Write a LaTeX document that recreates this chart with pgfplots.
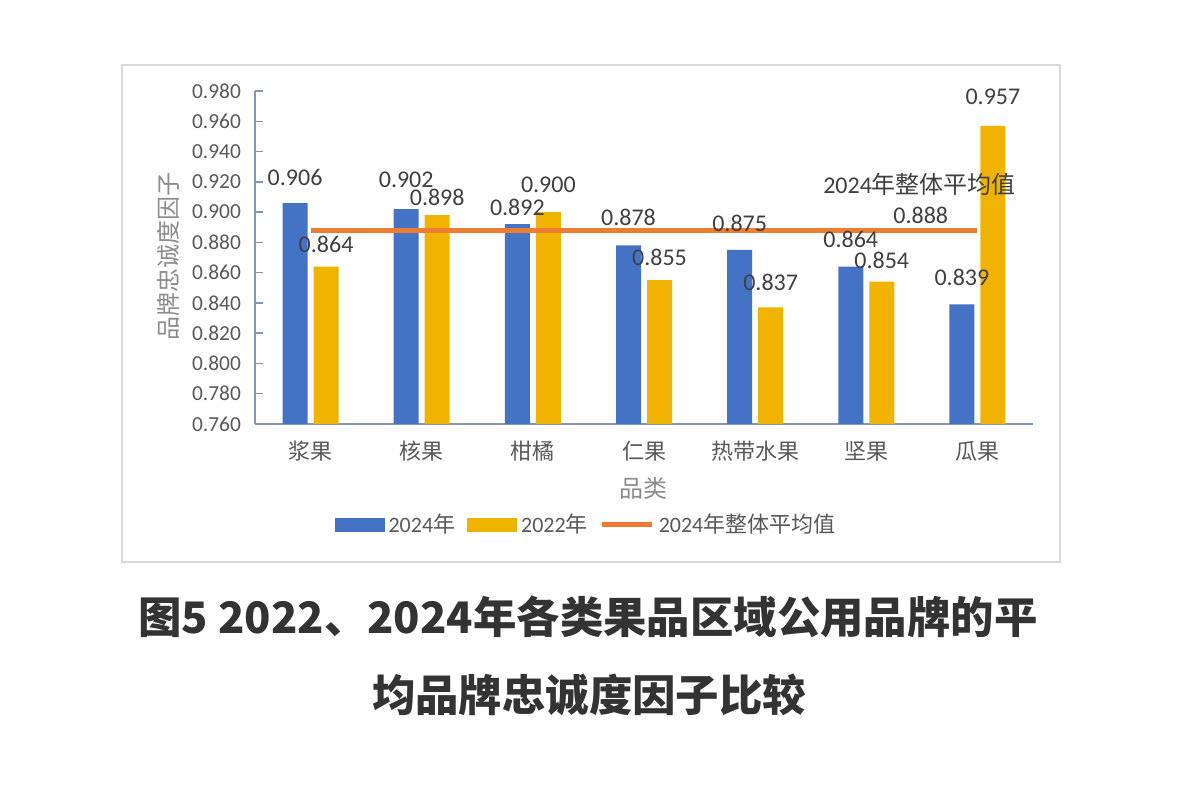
\documentclass[border=0pt]{standalone}
\usepackage{pgfplots}
\pgfplotsset{compat=1.18}
\usepackage{pgfplotstable}
\usepackage{fontspec}
\setmainfont{Carlito}
\newfontfamily\cjk{Noto Sans CJK SC}

\definecolor{bar24}{HTML}{4472C4}
\definecolor{bar22}{HTML}{F0B400}
\definecolor{avgline}{HTML}{ED7D31}
\definecolor{txt}{HTML}{595959}
\definecolor{lbl}{HTML}{404040}
\definecolor{axl}{HTML}{8497B0}

% x = category index, y = value, dy = label offset above bar (pt)
\pgfplotstableread{
x y dy
0 0.906 13
1 0.902 14.5
2 0.892 8.5
3 0.878 14
4 0.875 13.5
5 0.864 13.5
6 0.839 13.5
}\yrA
\pgfplotstableread{
x y dy
0 0.864 11
1 0.898 9
2 0.900 13.5
3 0.855 11.5
4 0.837 12.5
5 0.854 10.5
6 0.957 14.5
}\yrB

\begin{document}
\begin{tikzpicture}
\useasboundingbox (0,0) rectangle (589.5pt,396pt);
\fill[white] (0,0) rectangle (589.5pt,396pt);
\draw[color=black!15, line width=0.6pt] (61pt,115pt) rectangle (530pt,363.5pt);

\begin{axis}[
  at={(127.5pt,184pt)}, anchor=south west,
  scale only axis, width=389pt, height=166.5pt,
  ybar=3pt, bar width=12.5pt,
  xmin=-0.5, xmax=6.5, ymin=0.76, ymax=0.98,
  axis x line*=bottom, axis y line*=left,
  axis line style={axl, line width=0.7pt},
  xtick={0,...,6},
  xticklabels={浆果,核果,柑橘,仁果,热带水果,坚果,瓜果},
  xtick style={draw=none},
  xticklabel style={font=\cjk\fontsize{11}{13}\selectfont, text=txt, yshift=-5pt},
  ytick={0.76,0.78,...,0.981},
  ytick style={axl, line width=0.7pt},
  major tick length=4pt, tick align=inside,
  yticklabel style={font=\fontsize{10.7}{12}\selectfont, text=txt, xshift=-3.5pt,
    /pgf/number format/.cd, fixed, fixed zerofill, precision=3, assume math mode=true},
  scaled y ticks=false,
  legend style={at={(axis description cs:0.4267,-0.303)}, anchor=center,
    draw=none, fill=none, font=\fontsize{11}{13}\selectfont, text=txt,
    /tikz/every even column/.append style={column sep=4pt}},
  legend columns=-1,
  clip=false,
]
\addplot[fill=bar24, draw=none,
  legend image code/.code={\fill[bar24] (0pt,-3.5pt) rectangle (25pt,3.5pt);},
  nodes near coords,
  visualization depends on={\thisrow{dy} \as \dy},
  every node near coord/.append style={anchor=center, yshift=\dy pt,
    font=\fontsize{12}{14}\selectfont, text=lbl,
    /pgf/number format/.cd, fixed, fixed zerofill, precision=3, assume math mode=true},
] table[x=x, y=y] {\yrA};
\addlegendentry{2024{\cjk 年}}
\addplot[fill=bar22, draw=none,
  legend image code/.code={\fill[bar22] (0pt,-3.5pt) rectangle (25pt,3.5pt);},
  nodes near coords,
  visualization depends on={\thisrow{dy} \as \dy},
  every node near coord/.append style={anchor=center, yshift=\dy pt,
    font=\fontsize{12}{14}\selectfont, text=lbl,
    /pgf/number format/.cd, fixed, fixed zerofill, precision=3, assume math mode=true},
] table[x=x, y=y] {\yrB};
\addlegendentry{2022{\cjk 年}}
\addplot[sharp plot, avgline, line width=2.5pt, mark=none,
  legend image code/.code={\draw[avgline, line width=2.5pt] (0pt,0pt) -- (25pt,0pt);},
] coordinates {(0,0.888) (1,0.888) (2,0.888) (3,0.888) (4,0.888) (5,0.888) (6,0.888)};
\addlegendentry{2024{\cjk 年整体平均值}}

\node[font=\fontsize{12}{14}\selectfont, text=lbl] at (axis cs:5.48,0.918) {2024{\cjk 年整体平均值}};
\node[font=\fontsize{12}{14}\selectfont, text=lbl] at (axis cs:5.49,0.898) {0.888};
\end{axis}

\node[rotate=90, font=\cjk\fontsize{12}{14}\selectfont, text=black!45] at (84pt,267.5pt) {品牌忠诚度因子};
\node[font=\cjk\fontsize{12}{14}\selectfont, text=black!45] at (321.5pt,152pt) {品类};

\node[font=\cjk\bfseries\fontsize{21.7}{26}\selectfont, text=black!80] at (294pt,87.5pt) {图5 2022、2024年各类果品区域公用品牌的平};
\node[font=\cjk\bfseries\fontsize{21.7}{26}\selectfont, text=black!80] at (294.5pt,48.5pt) {均品牌忠诚度因子比较};
\end{tikzpicture}
\end{document}
